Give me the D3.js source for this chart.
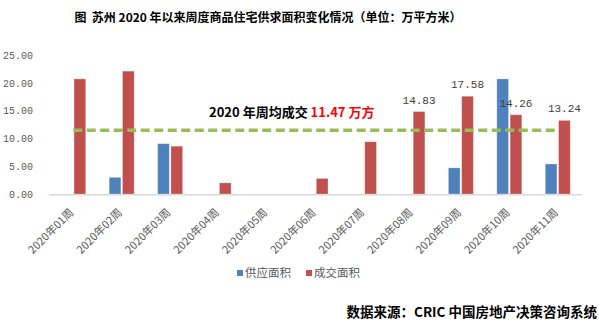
<!DOCTYPE html>
<html><head><meta charset="utf-8">
<script src="https://cdn.jsdelivr.net/npm/d3@7"></script>
<style>
body{margin:0;background:#fff;}
svg{display:block;}
</style></head>
<body>
<svg id="c" width="599" height="332"></svg>
<script>
const categories = ["2020年01周","2020年02周","2020年03周","2020年04周","2020年05周","2020年06周","2020年07周","2020年08周","2020年09周","2020年10周","2020年11周"];
const supplyValues = [0, 3.0, 9.05, 0, 0, 0, 0, 0, 4.7, 20.7, 5.4];
const dealValues = [20.7, 22.1, 8.6, 2.0, 0, 2.8, 9.4, 14.83, 17.58, 14.26, 13.24];
const dealLabels = [null, null, null, null, null, null, null, "14.83", "17.58", "14.26", "13.24"];
const yTicks = [0, 5, 10, 15, 20, 25];
const avgValue = 11.47;
const seriesNames = ["供应面积", "成交面积"];
const colors = ["#4F81BD", "#C0504D"];

const svg = d3.select("#c");
const x = d3.scaleBand().domain(categories).range([49, 582]).padding(0);
const y = d3.scaleLinear().domain([0, 25]).range([194, 55]);
const bw = x.bandwidth();
const x1 = d3.scaleBand().domain([0, 1]).range([bw/2 - 12.5, bw/2 + 12.5]).paddingInner(0.12);

// title
svg.append("text").attr("x", 268).attr("y", 22).attr("text-anchor", "middle")
  .attr("font-family", "Noto Sans CJK SC").attr("font-weight", "bold").attr("font-size", 12)
  .attr("fill", "#000").attr("xml:space", "preserve")
  .text("图  苏州 2020 年以来周度商品住宅供求面积变化情况（单位：万平方米）");

// y axis
const yAxis = d3.axisLeft(y).tickValues(yTicks).tickFormat(d3.format(".2f")).tickSize(0).tickPadding(0);
const ga = svg.append("g").attr("transform", "translate(33,0)").call(yAxis);
ga.select(".domain").remove();
ga.selectAll("text").attr("font-family", "Liberation Mono, monospace").attr("font-size", 10).attr("fill", "#595959");

// bars
const groups = svg.append("g").selectAll("g").data(categories).join("g")
  .attr("transform", d => `translate(${x(d)},0)`);
groups.selectAll("rect").data((d, i) => [supplyValues[i], dealValues[i]]).join("rect")
  .attr("x", (d, j) => x1(j)).attr("width", x1.bandwidth())
  .attr("y", d => y(d)).attr("height", d => y(0) - y(d))
  .attr("fill", (d, j) => colors[j])
  .attr("stroke", "#fff").attr("stroke-opacity", 0.35).attr("stroke-width", 0.8)
  .style("display", d => d > 0 ? null : "none");

// baseline
svg.append("line").attr("x1", 49).attr("x2", 582).attr("y1", y(0) + 0.8).attr("y2", y(0) + 0.8)
  .attr("stroke", "#D9D9D9").attr("stroke-width", 1.6);

// average dashed line
svg.append("line")
  .attr("x1", x(categories[0]) + bw/2).attr("x2", x(categories[categories.length-1]) + bw/2)
  .attr("y1", y(avgValue)).attr("y2", y(avgValue))
  .attr("stroke", "#9BBB59").attr("stroke-width", 3.5).attr("stroke-dasharray", "9,4.5");

// data labels
svg.append("g").selectAll("text").data(categories).join("text")
  .filter((d, i) => dealLabels[i] != null)
  .attr("x", d => x(d) + x1(1) + x1.bandwidth()/2)
  .attr("y", (d) => y(dealValues[categories.indexOf(d)]) - 8)
  .attr("text-anchor", "middle")
  .attr("font-family", "Liberation Mono, monospace").attr("font-size", 11).attr("fill", "#404040")
  .text(d => dealLabels[categories.indexOf(d)]);

// annotation
const ann = svg.append("text").attr("x", 209).attr("y", 117)
  .attr("font-family", "Noto Sans CJK SC").attr("font-weight", "bold").attr("font-size", 13);
ann.append("tspan").attr("fill", "#000").text("2020 年周均成交 ");
ann.append("tspan").attr("fill", "#FF0000").text(avgValue.toFixed(2) + " 万方");

// x labels
svg.append("g").selectAll("text").data(categories).join("text")
  .attr("transform", d => `translate(${x(d) + bw/2 - 1},${211}) rotate(-45)`)
  .attr("text-anchor", "end").attr("dominant-baseline", "middle")
  .attr("font-family", "Noto Sans CJK SC").attr("font-size", 11).attr("fill", "#595959")
  .text(d => d);

// legend
const lg = svg.append("g");
const lx = [237, 306];
seriesNames.forEach((n, i) => {
  lg.append("rect").attr("x", lx[i]).attr("y", 270).attr("width", 6).attr("height", 6).attr("fill", colors[i]);
  lg.append("text").attr("x", lx[i] + 8).attr("y", 274).attr("dominant-baseline", "middle")
    .attr("font-family", "Noto Sans CJK SC").attr("font-size", 11.5).attr("fill", "#595959").text(n);
});

// source
svg.append("text").attr("x", 597).attr("y", 317).attr("text-anchor", "end")
  .attr("font-family", "Noto Sans CJK SC").attr("font-weight", "bold").attr("font-size", 13.5)
  .attr("fill", "#000").text("数据来源：CRIC 中国房地产决策咨询系统");
</script>
</body></html>
